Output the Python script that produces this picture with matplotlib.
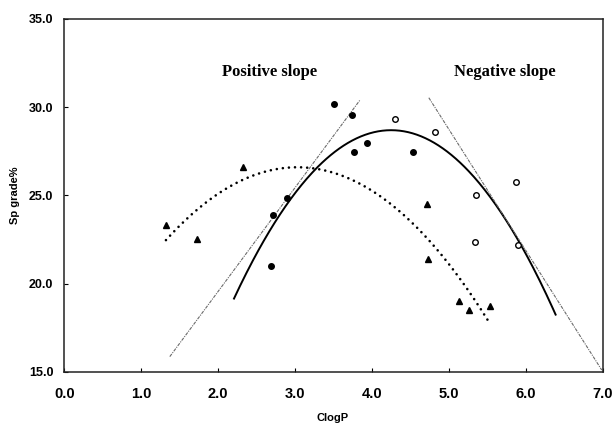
import numpy as np
import matplotlib
matplotlib.use("Agg")
import matplotlib.pyplot as plt

# ---- data ----
tri_x = [1.32, 1.72, 2.32, 4.72, 4.73, 5.13, 5.26, 5.54]
tri_y = [23.31, 22.55, 26.60, 24.54, 21.38, 19.00, 18.50, 18.72]

filled_x = [2.69, 2.71, 2.90, 3.51, 3.745, 3.77, 3.93, 4.54]
filled_y = [21.02, 23.88, 24.86, 30.20, 29.56, 27.48, 27.96, 27.46]

open_x = [4.30, 4.82, 5.35, 5.34, 5.87, 5.90]
open_y = [29.33, 28.58, 25.01, 22.35, 25.78, 22.20]

# quadratic fits: (vertex x, vertex y, curvature, x start, x end)
solid_fit = [4.25, 28.70, 2.282, 2.20, 6.395]
dotted_fit = [3.03, 26.60, 1.412, 1.32, 5.52]

# straight slope lines (end points)
pos_line_x = [1.37, 3.845]
pos_line_y = [15.87, 30.41]
neg_line_x = [4.74, 6.99]
neg_line_y = [30.54, 15.11]

x_ticks = [0, 1, 2, 3, 4, 5, 6, 7]
x_tick_labels = ["0.0", "1.0", "2.0", "3.0", "4.0", "5.0", "6.0", "7.0"]
y_ticks = [15, 20, 25, 30, 35]
y_tick_labels = ["15.0", "20.0", "25.0", "30.0", "35.0"]

# ---- figure ----
fig = plt.figure(figsize=(6.16, 4.26), dpi=100)
ax = fig.add_axes([0.1047, 0.1268, 0.8734, 0.8286])

def quad(fit):
    h, k, a, x0, x1 = fit
    xs = np.linspace(x0, x1, 300)
    return xs, k - a * (xs - h) ** 2

xs, ys = quad(solid_fit)
ax.plot(xs, ys, color="black", lw=1.4, solid_capstyle="butt")
xs, ys = quad(dotted_fit)
ax.plot(xs, ys, color="black", lw=1.9, linestyle=(0, (0.01, 2.3)),
        dash_capstyle="round")

ax.plot(pos_line_x, pos_line_y, color="#6a6a6a", lw=0.8, linestyle=(0, (3, 1, 1, 1)))
ax.plot(neg_line_x, neg_line_y, color="#6a6a6a", lw=0.8, linestyle=(0, (3, 1, 1, 1)))

ax.plot(tri_x, tri_y, linestyle="none", marker="^", ms=4.5, color="black")
ax.plot(filled_x, filled_y, linestyle="none", marker="o", ms=4, color="black")
ax.plot(open_x, open_y, linestyle="none", marker="o", ms=4, mfc="white",
        mec="black", mew=1.0)

ax.text(2.67, 32.0, "Positive slope", family="Liberation Serif", weight="bold",
        fontsize=12, ha="center", va="center")
ax.text(5.73, 32.0, "Negative slope", family="Liberation Serif", weight="bold",
        fontsize=12, ha="center", va="center")

ax.set_xlim(0, 7)
ax.set_ylim(15, 35)
ax.set_xticks(x_ticks)
ax.set_xticklabels(x_tick_labels, family="Liberation Sans", weight="bold", fontsize=10.5)
ax.set_yticks(y_ticks)
ax.set_yticklabels(y_tick_labels, family="Liberation Sans", weight="bold", fontsize=9)
ax.tick_params(axis="x", direction="in", length=3, width=0.8, pad=11)
ax.tick_params(axis="y", direction="in", length=3, width=0.8, pad=8)

for s in ax.spines.values():
    s.set_linewidth(1.1)
    s.set_color("#222222")

xl = ax.set_xlabel("ClogP", family="Liberation Sans", weight="bold", fontsize=8)
ax.xaxis.set_label_coords(0.499, -0.130)
xl.set_va("center")
yl = ax.set_ylabel("Sp grade%", family="Liberation Sans", weight="bold", fontsize=8)
ax.yaxis.set_label_coords(-0.092, 0.5)
yl.set_va("center")

fig.savefig("out.png", dpi=100)
